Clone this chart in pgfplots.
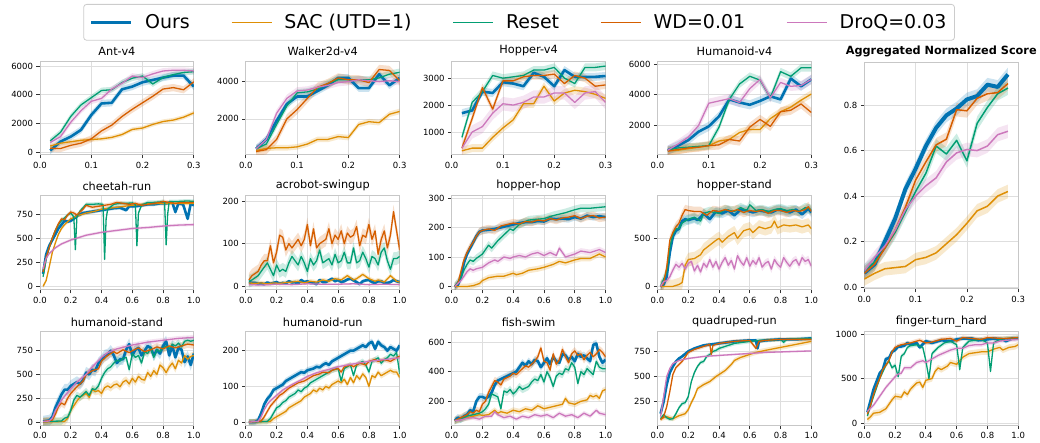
\documentclass[border=0pt]{standalone}
\usepackage{fontspec}
\setmainfont{DejaVu Sans}
\usepackage{pgfplots}
\usepackage{pgfplotstable}
\usepgfplotslibrary{fillbetween}
\pgfplotsset{compat=1.18}

\definecolor{cOurs}{HTML}{0173B2}
\definecolor{cSac}{HTML}{DE8F05}
\definecolor{cReset}{HTML}{029E73}
\definecolor{cWd}{HTML}{D55E00}
\definecolor{cDroq}{HTML}{CC78BC}

% ---------------- MuJoCo (columns: o=Ours, s=SAC, r=Reset, w=WD, d=DroQ)
\pgfplotstableread{
x o s r w d
0.02 140 450 810 300 700
0.04 760 650 1400 280 1100
0.06 1100 750 2500 500 2100
0.08 1570 850 3300 650 2900
0.10 2600 900 3800 950 3550
0.12 3400 950 4300 1500 3750
0.14 3450 1050 4350 1900 4400
0.16 4380 1250 4850 2500 4800
0.18 4570 1600 5150 3000 5300
0.20 4870 1700 5300 3450 5200
0.22 5030 1950 4750 3900 5450
0.24 5190 2150 5200 4400 5650
0.26 5330 2250 5400 4500 5700
0.28 5330 2450 5550 4350 5700
0.30 4570 2750 5600 4900 5650
}\Ant
\pgfplotstableread{
x o s r w d
0.02 400 300 400 250 400
0.04 900 420 650 350 900
0.06 1900 450 1700 900 2300
0.08 2800 450 2700 2000 3100
0.10 3200 500 3400 2500 3500
0.12 3200 650 3450 3100 3550
0.14 3500 900 3600 3700 3700
0.16 3800 900 3900 3900 3800
0.18 4200 1050 4100 4200 3950
0.20 4200 1000 4100 4100 4000
0.22 3650 1700 4100 4100 4100
0.24 3650 1850 4100 3950 4050
0.26 4400 1800 4200 4650 4000
0.28 3800 2250 4400 4600 4050
0.30 4200 2400 4500 4050 4000
}\Walker
\pgfplotstableread{
x o s r w d
0.02 1700 300 800 400 400
0.04 1800 400 2100 1500 1000
0.06 2500 400 2500 2650 1200
0.08 2450 800 3100 1850 1700
0.10 2850 1150 3000 2900 2050
0.12 2800 1450 3050 2900 2000
0.14 2700 2050 3100 3050 2100
0.16 3200 2050 3300 3100 2300
0.18 3050 2700 3300 3100 2300
0.20 2700 2150 3400 3150 2450
0.22 3300 2450 3000 2800 2450
0.24 3050 2550 2800 3100 2100
0.26 3050 2500 3400 3000 2450
0.28 3050 2400 3400 2700 2500
0.30 3080 2250 3450 2750 2100
}\Hopper
\pgfplotstableread{
x o s r w d
0.02 400 350 400 350 400
0.04 700 400 550 450 800
0.06 1050 500 600 550 1250
0.08 1600 600 650 600 2000
0.10 1950 700 700 700 3450
0.12 2600 1000 1900 750 3600
0.14 3700 1100 3700 1100 3750
0.16 3500 1550 4700 1000 3500
0.18 3350 1750 5200 1900 4400
0.20 3600 1750 4950 2400 5000
0.22 3900 2450 3800 1950 3800
0.24 3700 2900 5500 2900 4800
0.26 5050 3200 5200 3000 4550
0.28 4550 3650 5750 3400 4600
0.30 5000 4050 5750 2850 5000
}\Humanoid
\pgfplotstableread{
x o s r w d
0.00 0.062 0.035 0.07 0.06 0.07
0.02 0.10 0.06 0.11 0.10 0.13
0.04 0.20 0.08 0.17 0.17 0.18
0.06 0.30 0.085 0.24 0.25 0.25
0.08 0.43 0.09 0.33 0.35 0.34
0.10 0.52 0.12 0.42 0.47 0.40
0.12 0.62 0.13 0.50 0.55 0.445
0.14 0.70 0.15 0.62 0.625 0.48
0.16 0.755 0.19 0.585 0.65 0.55
0.18 0.785 0.23 0.645 0.78 0.59
0.20 0.825 0.28 0.555 0.775 0.605
0.22 0.84 0.335 0.72 0.83 0.60
0.24 0.89 0.355 0.79 0.85 0.62
0.26 0.88 0.40 0.85 0.855 0.67
0.28 0.935 0.42 0.875 0.895 0.685
}\Agg

% ---------------- DMC (columns: x y)
\pgfplotstableread[row sep=\\]{x y\\0.02 130\\0.04 330\\0.06 420\\0.08 480\\0.10 540\\0.12 600\\0.14 640\\0.16 680\\0.18 670\\0.20 680\\0.22 700\\0.24 730\\0.28 760\\0.32 770\\0.36 780\\0.40 790\\0.44 800\\0.48 810\\0.52 815\\0.56 790\\0.58 830\\0.62 830\\0.66 840\\0.70 850\\0.74 850\\0.78 860\\0.82 860\\0.86 870\\0.88 770\\0.90 860\\0.93 850\\0.96 700\\0.98 860\\1.00 840\\}\CheO
\pgfplotstableread[row sep=\\]{x y\\0.02 0\\0.04 60\\0.06 200\\0.08 350\\0.10 450\\0.12 540\\0.14 600\\0.16 640\\0.18 670\\0.20 700\\0.24 730\\0.30 760\\0.36 780\\0.40 800\\0.50 820\\0.60 840\\0.70 855\\0.80 860\\0.90 860\\1.00 860\\}\CheS
\pgfplotstableread[row sep=\\]{x y\\0.02 100\\0.04 280\\0.06 400\\0.08 500\\0.10 580\\0.12 640\\0.14 680\\0.16 710\\0.18 740\\0.20 760\\0.22 720\\0.23 380\\0.24 720\\0.26 780\\0.30 850\\0.34 850\\0.38 855\\0.41 850\\0.42 280\\0.43 700\\0.44 800\\0.48 850\\0.52 860\\0.56 860\\0.60 865\\0.62 850\\0.63 420\\0.64 760\\0.66 840\\0.70 870\\0.74 870\\0.78 875\\0.80 880\\0.81 870\\0.82 430\\0.83 750\\0.84 880\\0.90 880\\0.96 885\\1.00 880\\}\CheR
\pgfplotstableread[row sep=\\]{x y\\0.02 150\\0.04 300\\0.06 400\\0.08 500\\0.10 580\\0.12 650\\0.14 700\\0.16 690\\0.18 740\\0.20 770\\0.22 760\\0.24 740\\0.28 800\\0.30 840\\0.34 820\\0.38 830\\0.42 840\\0.46 850\\0.50 870\\0.54 860\\0.58 850\\0.62 860\\0.66 840\\0.70 850\\0.74 860\\0.78 870\\0.80 880\\0.84 870\\0.88 860\\0.92 870\\0.96 870\\1.00 870\\}\CheW
\pgfplotstableread[row sep=\\]{x y\\0.02 180\\0.04 290\\0.06 340\\0.08 370\\0.10 400\\0.14 440\\0.20 480\\0.30 530\\0.40 560\\0.50 580\\0.60 600\\0.70 610\\0.80 625\\0.90 635\\1.00 640\\}\CheD

\pgfplotstableread[row sep=\\]{x y\\0.02 10\\0.04 8\\0.06 8\\0.08 6\\0.10 7\\0.12 5\\0.14 9\\0.16 6\\0.18 8\\0.20 10\\0.22 6\\0.24 8\\0.26 7\\0.28 12\\0.30 9\\0.32 10\\0.34 6\\0.36 15\\0.38 10\\0.40 12\\0.42 8\\0.44 8\\0.46 5\\0.48 15\\0.50 10\\0.52 10\\0.54 14\\0.56 18\\0.58 12\\0.60 15\\0.62 10\\0.64 12\\0.66 16\\0.68 18\\0.70 14\\0.72 10\\0.74 5\\0.76 12\\0.78 14\\0.80 15\\0.82 10\\0.84 8\\0.86 12\\0.88 12\\0.90 8\\0.92 8\\0.94 10\\0.96 15\\0.98 12\\1.00 10\\}\AcrO
\pgfplotstableread[row sep=\\]{x y\\0.02 8\\0.06 7\\0.10 8\\0.14 6\\0.18 8\\0.22 7\\0.26 9\\0.30 10\\0.34 12\\0.38 8\\0.42 12\\0.46 10\\0.50 15\\0.54 12\\0.58 18\\0.62 15\\0.66 25\\0.70 15\\0.72 18\\0.76 28\\0.80 18\\0.84 12\\0.86 15\\0.90 10\\0.94 25\\0.98 12\\1.00 10\\}\AcrS
\pgfplotstableread[row sep=\\]{x y\\0.02 12\\0.04 15\\0.06 20\\0.08 25\\0.10 35\\0.12 45\\0.14 55\\0.16 40\\0.18 25\\0.20 50\\0.22 35\\0.24 40\\0.26 35\\0.28 55\\0.30 70\\0.32 60\\0.34 50\\0.36 70\\0.38 55\\0.40 35\\0.42 65\\0.44 50\\0.46 60\\0.48 85\\0.50 55\\0.52 60\\0.54 65\\0.56 50\\0.58 75\\0.60 55\\0.62 60\\0.64 80\\0.66 55\\0.68 55\\0.70 90\\0.72 55\\0.74 60\\0.76 80\\0.78 65\\0.80 45\\0.82 70\\0.84 65\\0.86 50\\0.88 80\\0.90 90\\0.92 60\\0.94 40\\0.96 65\\0.98 65\\1.00 70\\}\AcrR
\pgfplotstableread[row sep=\\]{x y\\0.02 15\\0.04 25\\0.06 30\\0.08 35\\0.10 50\\0.12 60\\0.14 60\\0.16 95\\0.18 55\\0.20 80\\0.22 120\\0.24 115\\0.26 85\\0.28 100\\0.30 90\\0.32 100\\0.34 110\\0.36 95\\0.38 110\\0.40 145\\0.42 95\\0.44 135\\0.46 90\\0.48 100\\0.50 105\\0.52 110\\0.54 135\\0.56 100\\0.58 120\\0.60 110\\0.62 130\\0.64 100\\0.66 125\\0.68 115\\0.70 120\\0.72 140\\0.74 95\\0.76 120\\0.78 115\\0.80 145\\0.82 110\\0.84 130\\0.86 75\\0.88 110\\0.90 130\\0.92 90\\0.94 120\\0.96 175\\0.98 130\\1.00 85\\}\AcrW
\pgfplotstableread[row sep=\\]{x y\\0.02 4\\0.10 3\\0.20 5\\0.30 4\\0.40 6\\0.50 5\\0.60 5\\0.70 6\\0.80 4\\0.90 5\\1.00 4\\}\AcrD

\pgfplotstableread[row sep=\\]{x y\\0.02 0\\0.04 5\\0.06 30\\0.08 80\\0.10 110\\0.12 130\\0.14 150\\0.16 170\\0.18 185\\0.20 190\\0.24 192\\0.28 195\\0.32 200\\0.36 205\\0.40 210\\0.44 215\\0.48 218\\0.52 218\\0.56 222\\0.60 220\\0.64 230\\0.68 228\\0.72 230\\0.76 228\\0.80 235\\0.84 230\\0.88 240\\0.92 235\\0.96 238\\1.00 235\\}\HhO
\pgfplotstableread[row sep=\\]{x y\\0.02 0\\0.10 0\\0.14 3\\0.18 10\\0.20 20\\0.24 30\\0.30 35\\0.34 35\\0.40 45\\0.42 40\\0.46 45\\0.50 55\\0.56 60\\0.60 65\\0.66 75\\0.70 85\\0.74 80\\0.80 90\\0.84 95\\0.90 95\\0.94 105\\0.96 110\\1.00 100\\}\HhS
\pgfplotstableread[row sep=\\]{x y\\0.02 0\\0.06 30\\0.08 55\\0.10 75\\0.12 90\\0.14 85\\0.16 95\\0.20 110\\0.24 140\\0.26 130\\0.30 155\\0.34 175\\0.38 195\\0.40 190\\0.44 210\\0.50 225\\0.60 230\\0.66 240\\0.70 245\\0.74 250\\0.80 260\\0.84 265\\0.90 265\\1.00 270\\}\HhR
\pgfplotstableread[row sep=\\]{x y\\0.02 0\\0.04 10\\0.06 50\\0.08 90\\0.10 115\\0.12 135\\0.14 150\\0.16 170\\0.18 185\\0.20 190\\0.24 195\\0.28 190\\0.32 205\\0.36 210\\0.40 215\\0.44 212\\0.48 220\\0.52 218\\0.56 225\\0.60 222\\0.64 230\\0.68 225\\0.72 232\\0.76 235\\0.80 240\\0.84 230\\0.88 238\\0.92 240\\0.96 232\\1.00 235\\}\HhW
\pgfplotstableread[row sep=\\]{x y\\0.02 0\\0.06 20\\0.08 35\\0.10 50\\0.12 60\\0.14 55\\0.16 60\\0.20 65\\0.24 80\\0.28 90\\0.30 85\\0.34 100\\0.38 95\\0.40 100\\0.44 105\\0.48 100\\0.52 110\\0.56 115\\0.60 105\\0.64 115\\0.68 105\\0.70 130\\0.74 100\\0.80 110\\0.84 120\\0.90 115\\0.96 125\\1.00 115\\}\HhD

\pgfplotstableread[row sep=\\]{x y\\0.02 0\\0.04 20\\0.06 100\\0.08 350\\0.10 520\\0.12 580\\0.14 600\\0.16 680\\0.18 700\\0.20 690\\0.22 700\\0.24 710\\0.26 690\\0.28 720\\0.30 760\\0.34 700\\0.38 780\\0.42 760\\0.46 790\\0.50 740\\0.54 800\\0.58 790\\0.62 770\\0.66 790\\0.70 780\\0.74 770\\0.78 800\\0.82 790\\0.86 770\\0.90 800\\0.94 750\\0.98 810\\1.00 770\\}\HsO
\pgfplotstableread[row sep=\\]{x y\\0.02 0\\0.10 0\\0.14 20\\0.16 40\\0.18 220\\0.20 280\\0.24 290\\0.28 330\\0.30 380\\0.34 430\\0.38 480\\0.40 500\\0.42 460\\0.46 520\\0.50 560\\0.52 500\\0.56 580\\0.60 600\\0.62 560\\0.66 620\\0.70 600\\0.74 620\\0.76 680\\0.78 610\\0.82 640\\0.86 630\\0.90 640\\0.94 620\\0.98 640\\1.00 600\\}\HsS
\pgfplotstableread[row sep=\\]{x y\\0.02 0\\0.06 150\\0.08 400\\0.10 540\\0.12 600\\0.14 600\\0.16 660\\0.20 700\\0.24 720\\0.28 680\\0.30 760\\0.34 780\\0.40 760\\0.44 800\\0.50 780\\0.54 820\\0.58 790\\0.60 850\\0.64 790\\0.68 800\\0.72 780\\0.76 800\\0.80 810\\0.84 790\\0.88 800\\0.92 780\\0.96 820\\1.00 800\\}\HsR
\pgfplotstableread[row sep=\\]{x y\\0.02 0\\0.04 30\\0.06 200\\0.08 480\\0.10 560\\0.12 620\\0.14 660\\0.16 740\\0.18 800\\0.20 790\\0.24 780\\0.28 780\\0.32 740\\0.36 790\\0.40 780\\0.44 800\\0.48 780\\0.52 800\\0.56 770\\0.60 790\\0.64 780\\0.68 790\\0.72 760\\0.76 790\\0.80 790\\0.84 770\\0.88 790\\0.92 780\\0.96 800\\0.98 830\\1.00 780\\}\HsW
\pgfplotstableread[row sep=\\]{x y\\0.02 0\\0.04 50\\0.06 60\\0.08 100\\0.10 170\\0.12 230\\0.14 200\\0.16 240\\0.18 180\\0.20 240\\0.22 260\\0.24 160\\0.26 220\\0.28 150\\0.30 240\\0.32 200\\0.34 280\\0.36 200\\0.38 260\\0.40 180\\0.42 250\\0.44 300\\0.46 220\\0.48 270\\0.50 180\\0.52 320\\0.54 260\\0.56 220\\0.58 300\\0.60 210\\0.62 270\\0.64 230\\0.66 300\\0.68 200\\0.70 240\\0.72 260\\0.74 180\\0.76 280\\0.78 230\\0.80 200\\0.82 300\\0.84 250\\0.86 210\\0.88 260\\0.90 280\\0.92 220\\0.94 300\\0.96 260\\0.98 280\\1.00 210\\}\HsD

\pgfplotstableread[row sep=\\]{x y\\0.02 5\\0.06 15\\0.08 50\\0.10 150\\0.12 220\\0.14 290\\0.16 340\\0.18 340\\0.20 380\\0.22 400\\0.24 420\\0.26 400\\0.28 440\\0.30 520\\0.32 500\\0.34 550\\0.36 540\\0.38 620\\0.40 650\\0.42 700\\0.44 710\\0.46 750\\0.48 700\\0.50 620\\0.52 660\\0.54 660\\0.56 760\\0.58 820\\0.60 700\\0.62 760\\0.64 780\\0.66 700\\0.68 750\\0.70 800\\0.72 780\\0.74 700\\0.76 760\\0.78 720\\0.80 800\\0.82 850\\0.84 700\\0.86 800\\0.88 680\\0.90 780\\0.92 760\\0.94 630\\0.96 690\\0.98 600\\1.00 720\\}\HuO
\pgfplotstableread[row sep=\\]{x y\\0.02 0\\0.16 5\\0.18 40\\0.20 120\\0.22 170\\0.24 220\\0.26 260\\0.28 280\\0.30 300\\0.32 260\\0.34 340\\0.36 320\\0.38 330\\0.40 300\\0.42 360\\0.44 380\\0.46 360\\0.48 390\\0.50 400\\0.52 370\\0.54 420\\0.56 440\\0.58 400\\0.60 460\\0.62 420\\0.64 480\\0.66 450\\0.68 440\\0.70 520\\0.72 480\\0.74 540\\0.76 500\\0.78 600\\0.80 570\\0.82 520\\0.84 580\\0.86 620\\0.88 560\\0.90 650\\0.92 620\\0.94 700\\0.96 660\\0.98 690\\1.00 700\\}\HuS
\pgfplotstableread[row sep=\\]{x y\\0.02 5\\0.14 10\\0.16 40\\0.18 50\\0.20 120\\0.22 230\\0.24 280\\0.26 260\\0.28 290\\0.30 320\\0.32 280\\0.34 350\\0.36 340\\0.38 380\\0.40 460\\0.42 520\\0.44 560\\0.46 580\\0.48 620\\0.50 650\\0.52 640\\0.54 670\\0.56 680\\0.58 550\\0.60 720\\0.62 680\\0.64 700\\0.66 620\\0.68 740\\0.70 720\\0.72 780\\0.74 680\\0.76 760\\0.78 740\\0.80 780\\0.82 800\\0.84 770\\0.86 820\\0.88 800\\0.90 830\\0.92 790\\0.94 850\\0.96 860\\0.98 850\\1.00 860\\}\HuR
\pgfplotstableread[row sep=\\]{x y\\0.02 5\\0.08 20\\0.10 80\\0.12 160\\0.14 200\\0.16 180\\0.18 250\\0.20 300\\0.24 370\\0.28 430\\0.30 500\\0.34 540\\0.38 560\\0.40 640\\0.44 700\\0.48 740\\0.50 720\\0.54 760\\0.58 730\\0.60 750\\0.64 780\\0.68 740\\0.72 760\\0.76 790\\0.80 770\\0.84 800\\0.88 780\\0.90 790\\0.94 810\\0.96 820\\1.00 810\\}\HuW
\pgfplotstableread[row sep=\\]{x y\\0.02 5\\0.06 10\\0.08 40\\0.10 120\\0.14 230\\0.20 350\\0.24 420\\0.30 500\\0.34 580\\0.40 680\\0.44 730\\0.50 770\\0.60 810\\0.70 840\\0.80 860\\0.90 880\\1.00 890\\}\HuD

\pgfplotstableread[row sep=\\]{x y\\0.02 0\\0.06 0\\0.08 5\\0.10 25\\0.12 50\\0.14 65\\0.16 75\\0.18 90\\0.20 95\\0.22 100\\0.24 105\\0.26 115\\0.28 120\\0.30 125\\0.32 130\\0.34 135\\0.36 140\\0.38 138\\0.40 145\\0.44 150\\0.46 155\\0.48 153\\0.50 160\\0.52 165\\0.54 160\\0.56 170\\0.58 175\\0.60 180\\0.62 185\\0.64 190\\0.66 195\\0.68 200\\0.70 200\\0.72 205\\0.74 210\\0.76 215\\0.78 210\\0.80 220\\0.82 225\\0.84 205\\0.86 225\\0.88 215\\0.90 210\\0.92 200\\0.94 210\\0.96 205\\0.98 200\\1.00 215\\}\HrO
\pgfplotstableread[row sep=\\]{x y\\0.02 0\\0.16 2\\0.18 10\\0.20 15\\0.22 20\\0.24 25\\0.26 30\\0.28 40\\0.30 45\\0.32 50\\0.34 55\\0.36 60\\0.38 70\\0.40 75\\0.42 80\\0.44 90\\0.46 85\\0.48 95\\0.50 90\\0.52 100\\0.54 95\\0.56 105\\0.58 110\\0.60 115\\0.62 110\\0.64 120\\0.66 105\\0.68 125\\0.70 110\\0.72 130\\0.74 120\\0.76 135\\0.78 125\\0.80 100\\0.82 130\\0.84 125\\0.86 140\\0.88 130\\0.90 135\\0.92 140\\0.94 145\\0.96 140\\0.98 140\\1.00 125\\}\HrS
\pgfplotstableread[row sep=\\]{x y\\0.02 0\\0.14 2\\0.16 10\\0.18 25\\0.20 40\\0.22 45\\0.24 55\\0.26 60\\0.28 70\\0.30 75\\0.32 80\\0.34 90\\0.36 85\\0.38 95\\0.40 100\\0.42 110\\0.44 115\\0.46 120\\0.48 125\\0.50 130\\0.52 135\\0.54 140\\0.56 145\\0.58 148\\0.60 150\\0.62 115\\0.64 150\\0.66 155\\0.68 160\\0.70 130\\0.72 160\\0.74 165\\0.76 170\\0.78 160\\0.80 140\\0.82 170\\0.84 175\\0.86 180\\0.88 165\\0.90 175\\0.92 180\\0.94 190\\0.96 185\\0.98 195\\1.00 135\\}\HrR
\pgfplotstableread[row sep=\\]{x y\\0.02 0\\0.10 3\\0.12 15\\0.14 30\\0.16 45\\0.18 55\\0.20 65\\0.22 75\\0.24 80\\0.28 95\\0.30 100\\0.34 110\\0.38 115\\0.40 120\\0.44 130\\0.48 135\\0.50 140\\0.54 138\\0.56 145\\0.60 150\\0.62 140\\0.64 155\\0.68 160\\0.70 155\\0.74 165\\0.78 160\\0.80 170\\0.84 175\\0.86 170\\0.90 175\\0.94 170\\0.98 180\\1.00 185\\}\HrW
\pgfplotstableread[row sep=\\]{x y\\0.02 0\\0.08 2\\0.10 15\\0.12 35\\0.14 50\\0.16 60\\0.20 75\\0.24 90\\0.30 105\\0.36 118\\0.40 128\\0.46 138\\0.50 143\\0.56 150\\0.60 155\\0.70 163\\0.80 170\\0.90 175\\1.00 180\\}\HrD

\pgfplotstableread[row sep=\\]{x y\\0.02 70\\0.04 90\\0.06 80\\0.08 100\\0.10 110\\0.12 140\\0.14 130\\0.16 200\\0.18 230\\0.20 230\\0.22 220\\0.24 230\\0.26 260\\0.28 310\\0.30 340\\0.32 350\\0.34 360\\0.36 370\\0.38 380\\0.40 390\\0.42 400\\0.44 430\\0.46 460\\0.48 440\\0.50 470\\0.52 450\\0.54 480\\0.56 470\\0.58 430\\0.60 460\\0.62 490\\0.64 450\\0.66 500\\0.68 470\\0.70 460\\0.72 520\\0.74 510\\0.76 480\\0.78 500\\0.80 470\\0.82 520\\0.84 500\\0.86 510\\0.88 490\\0.90 470\\0.92 580\\0.94 590\\0.96 500\\0.98 460\\1.00 480\\}\FiO
\pgfplotstableread[row sep=\\]{x y\\0.02 70\\0.06 80\\0.10 90\\0.14 100\\0.18 110\\0.20 105\\0.24 110\\0.28 140\\0.30 120\\0.32 130\\0.36 120\\0.40 140\\0.44 130\\0.48 150\\0.52 140\\0.56 170\\0.60 150\\0.64 160\\0.68 170\\0.72 180\\0.74 220\\0.76 190\\0.80 180\\0.84 200\\0.88 210\\0.90 240\\0.92 230\\0.94 240\\0.96 220\\0.98 270\\1.00 280\\}\FiS
\pgfplotstableread[row sep=\\]{x y\\0.02 70\\0.06 80\\0.10 100\\0.14 110\\0.18 120\\0.20 130\\0.22 150\\0.24 180\\0.26 250\\0.28 240\\0.30 230\\0.32 150\\0.34 270\\0.36 260\\0.38 280\\0.40 250\\0.42 270\\0.44 300\\0.46 280\\0.48 290\\0.50 300\\0.52 330\\0.54 350\\0.56 340\\0.58 380\\0.60 330\\0.62 400\\0.64 360\\0.66 300\\0.68 370\\0.70 390\\0.72 380\\0.74 420\\0.76 410\\0.78 460\\0.80 430\\0.82 320\\0.84 400\\0.86 380\\0.88 420\\0.90 400\\0.92 380\\0.94 470\\0.96 430\\0.98 420\\1.00 420\\}\FiR
\pgfplotstableread[row sep=\\]{x y\\0.02 70\\0.04 80\\0.06 90\\0.08 100\\0.10 110\\0.12 130\\0.14 120\\0.16 140\\0.18 130\\0.20 180\\0.22 200\\0.24 260\\0.26 300\\0.28 340\\0.30 330\\0.32 310\\0.34 350\\0.36 360\\0.38 370\\0.40 390\\0.42 380\\0.44 400\\0.46 420\\0.48 440\\0.50 430\\0.52 450\\0.54 470\\0.56 500\\0.58 560\\0.60 470\\0.62 460\\0.64 410\\0.66 520\\0.68 450\\0.70 480\\0.72 550\\0.74 500\\0.76 460\\0.78 520\\0.80 540\\0.82 510\\0.84 520\\0.86 480\\0.88 510\\0.90 530\\0.92 500\\0.94 520\\0.96 550\\0.98 530\\1.00 500\\}\FiW
\pgfplotstableread[row sep=\\]{x y\\0.02 70\\0.06 75\\0.10 85\\0.14 90\\0.18 80\\0.22 100\\0.26 100\\0.28 130\\0.30 110\\0.34 90\\0.38 100\\0.42 80\\0.46 100\\0.50 90\\0.54 110\\0.58 100\\0.62 110\\0.66 90\\0.70 120\\0.74 100\\0.78 110\\0.82 90\\0.86 120\\0.90 100\\0.94 140\\0.96 120\\1.00 110\\}\FiD

\pgfplotstableread[row sep=\\]{x y\\0.02 130\\0.04 250\\0.06 420\\0.08 540\\0.10 600\\0.12 650\\0.14 680\\0.16 700\\0.20 750\\0.24 780\\0.30 810\\0.40 830\\0.50 850\\0.60 860\\0.64 860\\0.65 780\\0.66 850\\0.70 860\\0.80 870\\0.90 870\\1.00 880\\}\QuO
\pgfplotstableread[row sep=\\]{x y\\0.02 80\\0.06 100\\0.08 90\\0.10 80\\0.14 110\\0.18 130\\0.20 170\\0.22 240\\0.24 300\\0.26 380\\0.28 400\\0.30 420\\0.34 450\\0.38 500\\0.40 520\\0.44 560\\0.48 620\\0.50 660\\0.54 690\\0.58 710\\0.60 720\\0.64 740\\0.70 760\\0.80 790\\0.90 820\\1.00 850\\}\QuS
\pgfplotstableread[row sep=\\]{x y\\0.02 80\\0.04 120\\0.06 90\\0.08 75\\0.10 80\\0.12 130\\0.14 190\\0.16 230\\0.18 240\\0.20 300\\0.22 450\\0.24 540\\0.26 600\\0.28 640\\0.30 650\\0.32 700\\0.34 720\\0.36 750\\0.38 760\\0.40 780\\0.44 800\\0.50 830\\0.60 850\\0.66 860\\0.70 860\\0.80 870\\0.82 840\\0.84 870\\1.00 880\\}\QuR
\pgfplotstableread[row sep=\\]{x y\\0.02 70\\0.04 100\\0.06 200\\0.08 350\\0.10 520\\0.12 590\\0.14 620\\0.16 650\\0.20 740\\0.24 770\\0.30 800\\0.34 820\\0.35 720\\0.36 810\\0.40 830\\0.50 850\\0.60 860\\0.64 780\\0.66 850\\0.70 860\\0.80 870\\1.00 870\\}\QuW
\pgfplotstableread[row sep=\\]{x y\\0.02 100\\0.04 300\\0.06 500\\0.08 580\\0.10 630\\0.14 660\\0.20 680\\0.30 700\\0.40 710\\0.50 720\\0.60 730\\0.70 740\\0.80 745\\0.90 750\\1.00 755\\}\QuD

\pgfplotstableread[row sep=\\]{x y\\0.02 120\\0.04 250\\0.06 380\\0.08 470\\0.10 560\\0.12 600\\0.14 720\\0.16 730\\0.18 800\\0.20 820\\0.22 860\\0.24 860\\0.26 870\\0.28 900\\0.30 880\\0.34 900\\0.36 850\\0.40 920\\0.44 900\\0.50 930\\0.56 920\\0.60 940\\0.64 950\\0.70 950\\0.74 930\\0.80 940\\0.84 950\\0.90 940\\0.92 920\\0.96 950\\1.00 950\\}\FtO
\pgfplotstableread[row sep=\\]{x y\\0.02 40\\0.04 70\\0.06 110\\0.10 120\\0.14 160\\0.18 260\\0.20 300\\0.24 290\\0.26 350\\0.28 320\\0.30 380\\0.34 450\\0.36 460\\0.38 400\\0.40 480\\0.44 500\\0.46 580\\0.48 620\\0.50 600\\0.54 640\\0.56 680\\0.60 660\\0.64 740\\0.68 780\\0.72 790\\0.76 800\\0.80 800\\0.84 830\\0.88 850\\0.90 820\\0.94 850\\0.98 860\\1.00 880\\}\FtS
\pgfplotstableread[row sep=\\]{x y\\0.02 80\\0.06 300\\0.10 500\\0.14 650\\0.16 700\\0.18 620\\0.20 650\\0.22 520\\0.24 750\\0.26 780\\0.28 850\\0.30 870\\0.34 880\\0.38 850\\0.40 700\\0.42 500\\0.44 780\\0.48 850\\0.52 900\\0.56 920\\0.60 880\\0.62 600\\0.64 850\\0.68 920\\0.72 930\\0.76 940\\0.80 900\\0.82 580\\0.84 900\\0.88 940\\0.92 950\\1.00 960\\}\FtR
\pgfplotstableread[row sep=\\]{x y\\0.02 100\\0.04 200\\0.06 320\\0.08 420\\0.10 500\\0.12 600\\0.14 650\\0.16 700\\0.18 800\\0.20 850\\0.24 880\\0.30 900\\0.36 930\\0.40 900\\0.44 910\\0.50 940\\0.56 950\\0.60 920\\0.64 960\\0.70 950\\0.76 940\\0.80 960\\0.90 950\\1.00 960\\}\FtW
\pgfplotstableread[row sep=\\]{x y\\0.02 130\\0.06 200\\0.10 300\\0.14 400\\0.18 480\\0.20 520\\0.22 550\\0.24 560\\0.26 620\\0.30 620\\0.34 680\\0.38 700\\0.40 680\\0.44 720\\0.48 760\\0.52 790\\0.56 820\\0.60 840\\0.64 840\\0.68 870\\0.72 880\\0.76 880\\0.80 900\\0.84 900\\0.88 920\\0.92 930\\1.00 940\\}\FtD

% one run: shaded band (mean +- half-width) and mean line
% #1 id, #2 colour, #3 line width, #4 band half-width, #5 table, #6 column
\newcommand{\run}[6]{%
  \addplot[draw=none, forget plot, name path=u#1] table[x=x, y expr=\thisrow{#6}+#4] {#5};
  \addplot[draw=none, forget plot, name path=l#1] table[x=x, y expr=\thisrow{#6}-#4] {#5};
  \addplot[fill=#2, fill opacity=0.2, draw=none, forget plot] fill between[of=u#1 and l#1];
  \addplot[#2, line width=#3, line join=round, forget plot] table[x=x, y=#6] {#5};
}
\newcommand{\lwthin}{1.3pt}
\newcommand{\lwthick}{2.6pt}

\pgfplotsset{
  base/.style={
    scale only axis, width=154pt, height=94pt, anchor=south west,
    set layers,
    axis line style={draw=black!22, line width=0.8pt},
    grid=major, major grid style={draw=black!13, line width=0.8pt},
    tick align=outside, xtick pos=bottom, ytick pos=left,
    major tick length=3.5pt, tick style={draw=black!80, line width=0.8pt},
    tick label style={font=\fontsize{8.5}{10}\selectfont},
    title style={font=\fontsize{11.3}{13}\selectfont, yshift=-4.5pt},
    scaled ticks=false,
    /pgf/number format/assume math mode=true,
    /pgf/number format/1000 sep={},
    xticklabel style={/pgf/number format/fixed, /pgf/number format/fixed zerofill, /pgf/number format/precision=1},
  },
  mj/.style={base, xmin=0, xmax=0.3, xtick={0,0.1,0.2,0.3}},
  dmc/.style={base, xmin=0, xmax=1, xtick={0,0.2,0.4,0.6,0.8,1}},
}

\begin{document}
\begin{tikzpicture}

% ---------------- row 1: MuJoCo
\begin{axis}[mj, at={(40pt,287pt)}, title={Ant-v4}, ymin=-160, ymax=6346, ytick={0,2000,4000,6000},
  legend columns=5,
  legend style={at={(3.1136,1.6064)}, anchor=north, draw=black!20, line width=0.8pt,
    rounded corners=3pt, fill=white, font=\fontsize{19}{22}\selectfont,
    inner xsep=6pt, inner ysep=8pt,
    /tikz/every odd column/.append style={column sep=10pt},
    /tikz/every even column/.append style={column sep=39pt}},
  legend image code/.code={\draw[#1, line cap=butt] (0pt,0pt) -- (40pt,0pt);}]
\addlegendimage{cOurs, line width=3.5pt}
\addlegendimage{cSac, line width=1.6pt}
\addlegendimage{cReset, line width=1.6pt}
\addlegendimage{cWd, line width=1.6pt}
\addlegendimage{cDroq, line width=1.6pt}
\legend{Ours, SAC (UTD=1), Reset, WD=0.01, DroQ=0.03}
\run{a}{cOurs}{\lwthick}{250}{\Ant}{o}
\run{b}{cSac}{\lwthin}{150}{\Ant}{s}
\run{c}{cReset}{\lwthin}{200}{\Ant}{r}
\run{d}{cWd}{\lwthin}{250}{\Ant}{w}
\run{e}{cDroq}{\lwthin}{200}{\Ant}{d}
\end{axis}

\begin{axis}[mj, at={(246pt,287pt)}, title={Walker2d-v4}, ymin=70, ymax=5110, ytick={2000,4000}]
\run{a}{cOurs}{\lwthick}{200}{\Walker}{o}
\run{b}{cSac}{\lwthin}{150}{\Walker}{s}
\run{c}{cReset}{\lwthin}{200}{\Walker}{r}
\run{d}{cWd}{\lwthin}{250}{\Walker}{w}
\run{e}{cDroq}{\lwthin}{200}{\Walker}{d}
\end{axis}

\begin{axis}[mj, at={(452pt,287pt)}, title={Hopper-v4}, ymin=150, ymax=3640, ytick={1000,2000,3000}]
\run{a}{cOurs}{\lwthick}{150}{\Hopper}{o}
\run{b}{cSac}{\lwthin}{150}{\Hopper}{s}
\run{c}{cReset}{\lwthin}{150}{\Hopper}{r}
\run{d}{cWd}{\lwthin}{150}{\Hopper}{w}
\run{e}{cDroq}{\lwthin}{250}{\Hopper}{d}
\end{axis}

\begin{axis}[mj, at={(658pt,287pt)}, title={Humanoid-v4}, ymin=100, ymax=6195, ytick={2000,4000,6000}]
\run{a}{cOurs}{\lwthick}{300}{\Humanoid}{o}
\run{b}{cSac}{\lwthin}{250}{\Humanoid}{s}
\run{c}{cReset}{\lwthin}{250}{\Humanoid}{r}
\run{d}{cWd}{\lwthin}{300}{\Humanoid}{w}
\run{e}{cDroq}{\lwthin}{300}{\Humanoid}{d}
\end{axis}

% ---------------- aggregated score (spans rows 1-2)
\begin{axis}[mj, at={(865pt,153pt)}, height=227pt, title={\bfseries Aggregated Normalized Score},
  ymin=-0.008, ymax=0.99, ytick={0,0.2,0.4,0.6,0.8},
  yticklabel style={/pgf/number format/fixed, /pgf/number format/fixed zerofill, /pgf/number format/precision=1}]
\run{a}{cOurs}{4pt}{0.03}{\Agg}{o}
\run{b}{cSac}{1.5pt}{0.03}{\Agg}{s}
\run{c}{cReset}{1.5pt}{0.03}{\Agg}{r}
\run{d}{cWd}{1.5pt}{0.03}{\Agg}{w}
\run{e}{cDroq}{1.5pt}{0.03}{\Agg}{d}
\end{axis}

% ---------------- row 2: DMC
\begin{axis}[dmc, at={(40pt,152pt)}, title={cheetah-run}, ymin=-35, ymax=938, ytick={0,250,500,750}]
\run{a}{cOurs}{\lwthick}{20}{\CheO}{y}
\run{b}{cSac}{\lwthin}{20}{\CheS}{y}
\run{c}{cReset}{\lwthin}{20}{\CheR}{y}
\run{d}{cWd}{\lwthin}{20}{\CheW}{y}
\run{e}{cDroq}{\lwthin}{15}{\CheD}{y}
\end{axis}

\begin{axis}[dmc, at={(246pt,152pt)}, title={acrobot-swingup}, ymin=-8, ymax=212, ytick={0,100,200}]
\run{a}{cOurs}{\lwthick}{4}{\AcrO}{y}
\run{b}{cSac}{\lwthin}{5}{\AcrS}{y}
\run{c}{cReset}{\lwthin}{15}{\AcrR}{y}
\run{d}{cWd}{\lwthin}{16}{\AcrW}{y}
\run{e}{cDroq}{\lwthin}{2}{\AcrD}{y}
\end{axis}

\begin{axis}[dmc, at={(452pt,152pt)}, title={hopper-hop}, ymin=-11, ymax=307, ytick={0,100,200,300}]
\run{a}{cOurs}{\lwthick}{12}{\HhO}{y}
\run{b}{cSac}{\lwthin}{10}{\HhS}{y}
\run{c}{cReset}{\lwthin}{14}{\HhR}{y}
\run{d}{cWd}{\lwthin}{14}{\HhW}{y}
\run{e}{cDroq}{\lwthin}{10}{\HhD}{y}
\end{axis}

\begin{axis}[dmc, at={(658pt,152pt)}, title={hopper-stand}, ymin=-35, ymax=943, ytick={0,500}]
\run{a}{cOurs}{\lwthick}{50}{\HsO}{y}
\run{b}{cSac}{\lwthin}{70}{\HsS}{y}
\run{c}{cReset}{\lwthin}{50}{\HsR}{y}
\run{d}{cWd}{\lwthin}{50}{\HsW}{y}
\run{e}{cDroq}{\lwthin}{40}{\HsD}{y}
\end{axis}

% ---------------- row 3: DMC
\begin{axis}[dmc, at={(40pt,16pt)}, title={humanoid-stand}, ymin=-39, ymax=950, ytick={0,250,500,750}]
\run{a}{cOurs}{\lwthick}{60}{\HuO}{y}
\run{b}{cSac}{\lwthin}{40}{\HuS}{y}
\run{c}{cReset}{\lwthin}{40}{\HuR}{y}
\run{d}{cWd}{\lwthin}{40}{\HuW}{y}
\run{e}{cDroq}{\lwthin}{25}{\HuD}{y}
\end{axis}

\begin{axis}[dmc, at={(246pt,16pt)}, title={humanoid-run}, ymin=-10, ymax=253, ytick={0,100,200}]
\run{a}{cOurs}{\lwthick}{9}{\HrO}{y}
\run{b}{cSac}{\lwthin}{8}{\HrS}{y}
\run{c}{cReset}{\lwthin}{8}{\HrR}{y}
\run{d}{cWd}{\lwthin}{7}{\HrW}{y}
\run{e}{cDroq}{\lwthin}{5}{\HrD}{y}
\end{axis}

\begin{axis}[dmc, at={(452pt,16pt)}, title={fish-swim}, ymin=36, ymax=669, ytick={200,400,600}]
\run{a}{cOurs}{\lwthick}{25}{\FiO}{y}
\run{b}{cSac}{\lwthin}{20}{\FiS}{y}
\run{c}{cReset}{\lwthin}{25}{\FiR}{y}
\run{d}{cWd}{\lwthin}{25}{\FiW}{y}
\run{e}{cDroq}{\lwthin}{15}{\FiD}{y}
\end{axis}

\begin{axis}[dmc, at={(658pt,16pt)}, title={quadruped-run}, ymin=11, ymax=946, ytick={250,500,750}]
\run{a}{cOurs}{\lwthick}{15}{\QuO}{y}
\run{b}{cSac}{\lwthin}{25}{\QuS}{y}
\run{c}{cReset}{\lwthin}{20}{\QuR}{y}
\run{d}{cWd}{\lwthin}{20}{\QuW}{y}
\run{e}{cDroq}{\lwthin}{10}{\QuD}{y}
\end{axis}

\begin{axis}[dmc, at={(865pt,16pt)}, title={finger-turn\_hard}, ymin=-30, ymax=1026, ytick={0,500,1000}]
\run{a}{cOurs}{\lwthick}{25}{\FtO}{y}
\run{b}{cSac}{\lwthin}{35}{\FtS}{y}
\run{c}{cReset}{\lwthin}{25}{\FtR}{y}
\run{d}{cWd}{\lwthin}{25}{\FtW}{y}
\run{e}{cDroq}{\lwthin}{25}{\FtD}{y}
\end{axis}

% page frame
\path (0,0) rectangle (1040pt,442pt);
\end{tikzpicture}
\end{document}
